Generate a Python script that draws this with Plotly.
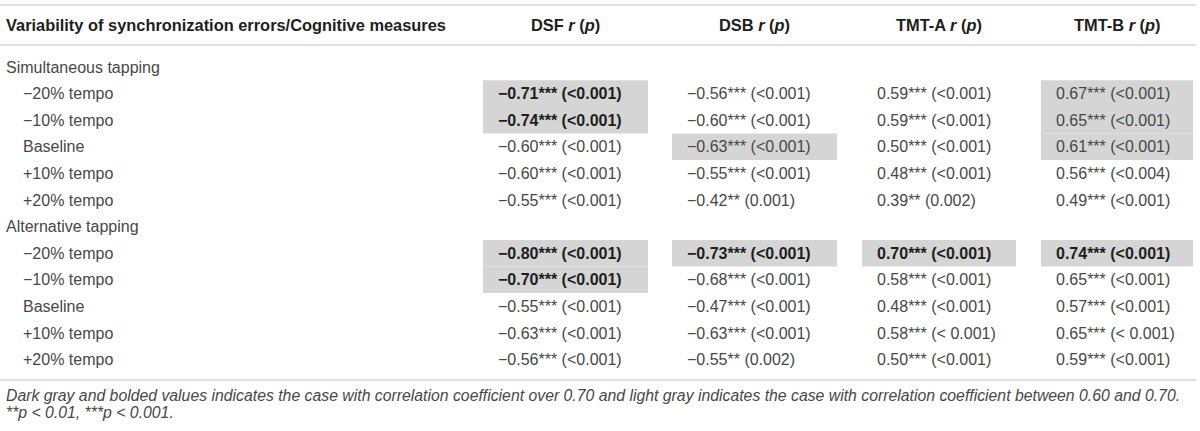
# -*- coding: utf-8 -*-

import plotly.graph_objs as go

# table content
header_first = "Variability of synchronization errors/Cognitive measures"
measures = ["DSF", "DSB", "TMT-A", "TMT-B"]
groups = ["Simultaneous tapping", "Alternative tapping"]
conditions = ["\u221220% tempo", "\u221210% tempo", "Baseline", "+10% tempo", "+20% tempo"]

# r values, one list per measure (simultaneous rows first, then alternative)
dsf_r = [-0.71, -0.74, -0.60, -0.60, -0.55, -0.80, -0.70, -0.55, -0.63, -0.56]
dsb_r = [-0.56, -0.60, -0.63, -0.55, -0.42, -0.73, -0.68, -0.47, -0.63, -0.55]
tmta_r = [0.59, 0.59, 0.50, 0.48, 0.39, 0.70, 0.58, 0.48, 0.58, 0.50]
tmtb_r = [0.67, 0.65, 0.61, 0.56, 0.49, 0.74, 0.65, 0.57, 0.65, 0.59]

dsf_stars = ["***"] * 10
dsb_stars = ["***", "***", "***", "***", "**", "***", "***", "***", "***", "**"]
tmta_stars = ["***", "***", "***", "***", "**", "***", "***", "***", "***", "***"]
tmtb_stars = ["***"] * 10

dsf_p = ["<0.001"] * 10
dsb_p = ["<0.001", "<0.001", "<0.001", "<0.001", "0.001",
         "<0.001", "<0.001", "<0.001", "<0.001", "0.002"]
tmta_p = ["<0.001", "<0.001", "<0.001", "<0.001", "0.002",
          "<0.001", "<0.001", "<0.001", "< 0.001", "<0.001"]
tmtb_p = ["<0.001", "<0.001", "<0.001", "<0.004", "<0.001",
          "<0.001", "<0.001", "<0.001", "< 0.001", "<0.001"]

# 0 = plain, 1 = light gray, 2 = dark gray + bold
dsf_hl = [2, 2, 0, 0, 0, 2, 2, 0, 0, 0]
dsb_hl = [0, 0, 1, 0, 0, 2, 0, 0, 0, 0]
tmta_hl = [0, 0, 0, 0, 0, 2, 0, 0, 0, 0]
tmtb_hl = [1, 1, 1, 0, 0, 2, 0, 0, 0, 0]

footnote_1 = ("Dark gray and bolded values indicates the case with correlation coefficient "
              "over 0.70 and light gray indicates the case with correlation coefficient "
              "between 0.60 and 0.70.")
footnote_2 = "**<i>p</i> &lt; 0.01, ***<i>p</i> &lt; 0.001."

# layout constants (pixels)
W, H = 1200, 431
FONT = "Liberation Sans, Arial, sans-serif"
FS = 16
TXT = "#474747"
BOLD = "#1e1e1e"
SHADE = "#d5d5d5"
RULE = "#e0e0e0"
col_left = [483, 672, 862, 1041]
col_right = [648, 837, 1016, 1193]
pad = 14
row_h = 26.6
first_row_y = 67
header_y = 25


def fmt_r(v):
    s = "%.2f" % abs(v)
    return ("\u2212" + s) if v < 0 else s


def cell_text(r, stars, p, bold):
    s = "%s%s (%s)" % (fmt_r(r), stars, p.replace("<", "&lt;"))
    return "<b>%s</b>" % s if bold else s


annotations = []
shapes = []


def add_text(x, y, text, color=TXT, size=FS, anchor="left"):
    annotations.append(dict(
        x=x, y=y, xref="x", yref="y", text=text, showarrow=False,
        xanchor=anchor, yanchor="middle", borderpad=0,
        font=dict(family=FONT, size=size, color=color),
    ))


def add_rule(y):
    shapes.append(dict(type="line", xref="x", yref="y", x0=0, x1=1196, y0=y, y1=y,
                       line=dict(color=RULE, width=2)))


# header
add_rule(5)
add_rule(45)
add_text(5, header_y, "<b>%s</b>" % header_first, color=BOLD, size=16.4)
for i, m in enumerate(measures):
    cx = (col_left[i] + col_right[i]) / 2
    add_text(cx, header_y, "<b>%s <i>r</i> (<i>p</i>)</b>" % m, color=BOLD,
             size=16.4, anchor="center")

cols = [
    (dsf_r, dsf_stars, dsf_p, dsf_hl),
    (dsb_r, dsb_stars, dsb_p, dsb_hl),
    (tmta_r, tmta_stars, tmta_p, tmta_hl),
    (tmtb_r, tmtb_stars, tmtb_p, tmtb_hl),
]

row = 0
for g, grp in enumerate(groups):
    y = first_row_y + row * row_h
    add_text(5, y, grp)
    row += 1
    for c, cond in enumerate(conditions):
        y = first_row_y + row * row_h
        add_text(22, y, cond)
        k = g * len(conditions) + c
        for i, (rv, st, pv, hl) in enumerate(cols):
            if hl[k]:
                shapes.append(dict(type="rect", xref="x", yref="y", layer="below",
                                   x0=col_left[i], x1=col_right[i],
                                   y0=y - row_h / 2, y1=y + row_h / 2,
                                   fillcolor=SHADE, line=dict(width=0)))
            add_text(col_left[i] + pad, y, cell_text(rv[k], st[k], pv[k], hl[k] == 2),
                     color=BOLD if hl[k] == 2 else TXT)
        row += 1

add_rule(380)
add_text(5, 395, "<i>%s</i>" % footnote_1, size=15.8)
add_text(5, 412, "<i>%s</i>" % footnote_2, size=15.8)

fig = go.Figure()
fig.update_layout(
    width=W,
    height=H,
    margin=dict(l=0, r=0, t=0, b=0),
    plot_bgcolor="white",
    paper_bgcolor="white",
    showlegend=False,
    xaxis=dict(range=[0, W], visible=False, fixedrange=True),
    yaxis=dict(range=[H, 0], visible=False, fixedrange=True),
    annotations=annotations,
    shapes=shapes,
)
# drop the default page margin so the figure sits at the window corner
fig.write_html("out.html", config={"displayModeBar": False},
               post_script="document.body.style.margin='0';")
